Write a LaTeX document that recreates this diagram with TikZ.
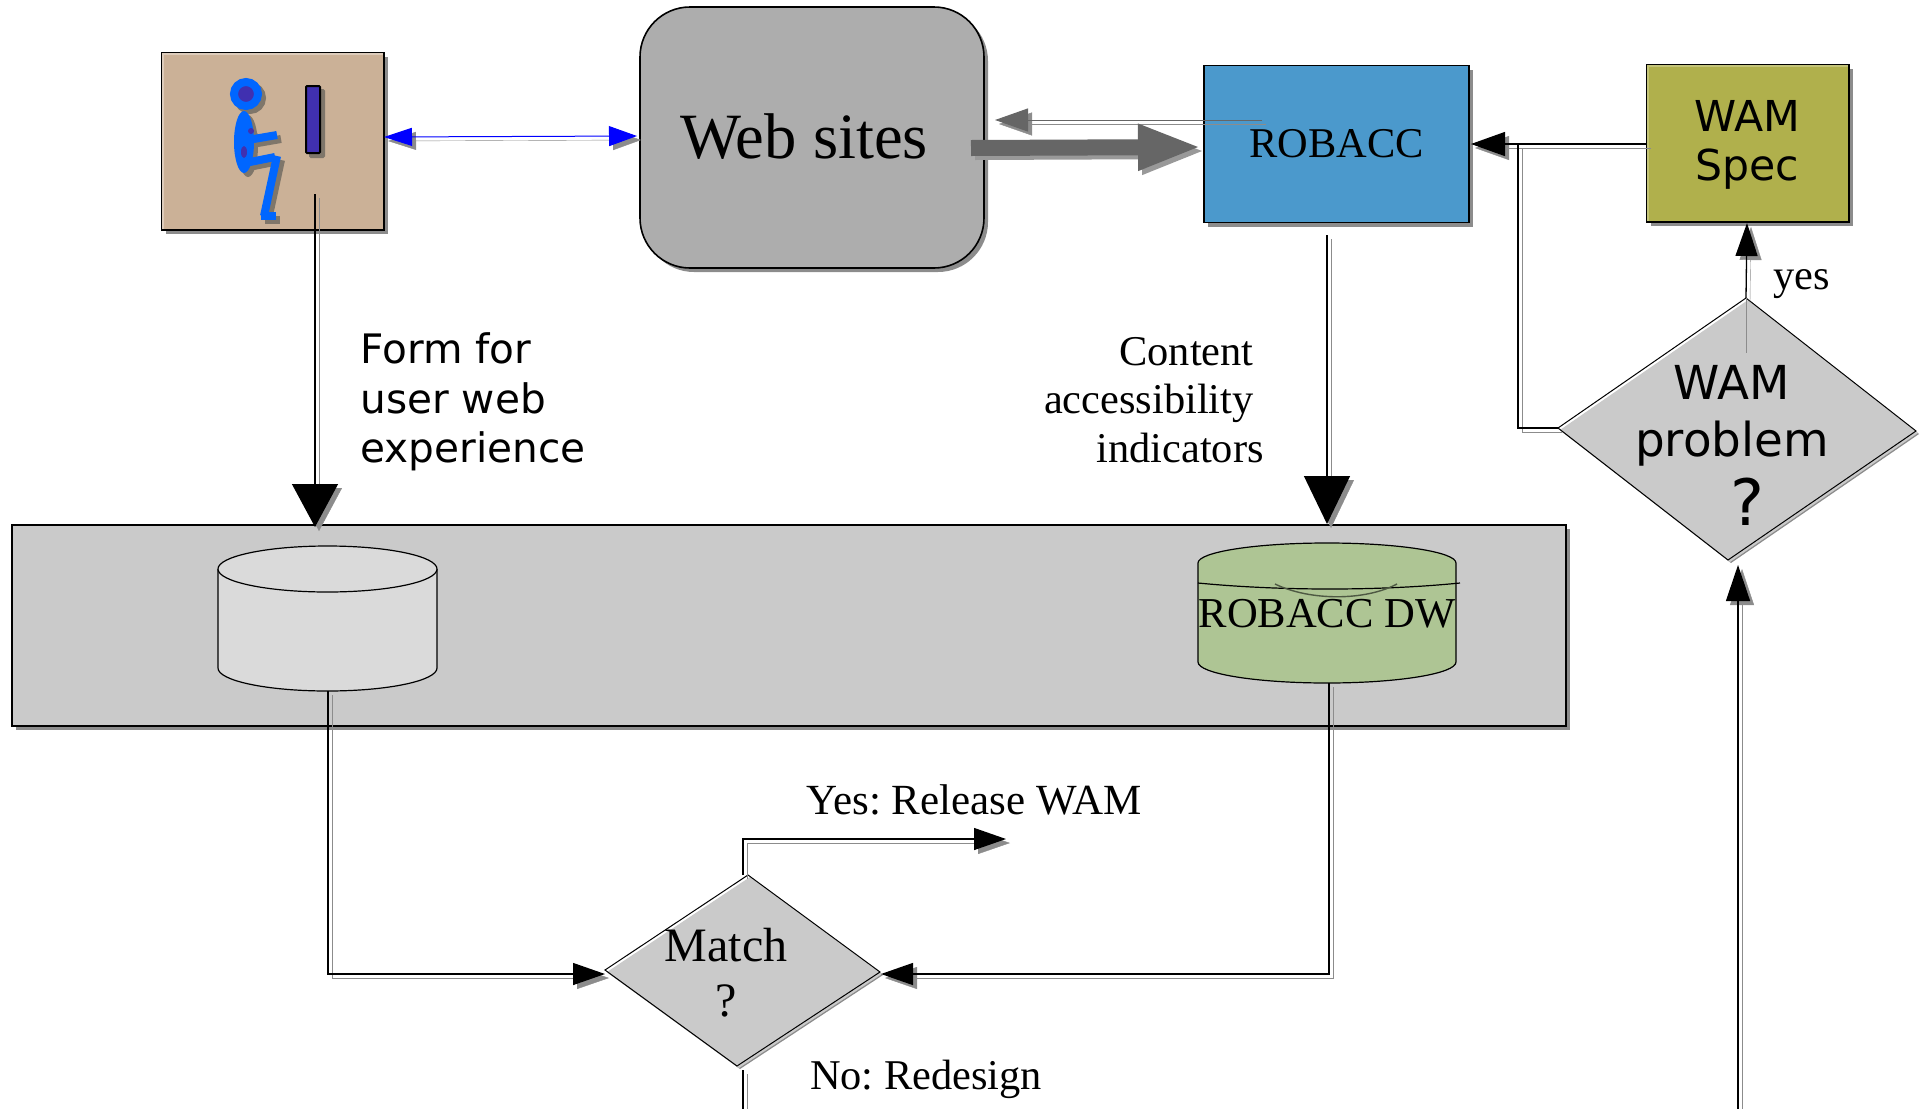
\documentclass[tikz,border=0pt]{standalone}
\usepackage{fontspec}
\setmainfont{Liberation Serif}
\newfontfamily\verafont{DejaVu Sans}
\usetikzlibrary{arrows.meta,shadows}
\definecolor{sdwgray}{HTML}{8C8C8C}
\definecolor{userfill}{HTML}{CBB197}
\definecolor{webfill}{HTML}{ADADAD}
\definecolor{robfill}{HTML}{4B99CC}
\definecolor{wamfill}{HTML}{B0B04C}
\definecolor{bandfill}{HTML}{CACACA}
\definecolor{dbfill}{HTML}{DADADA}
\definecolor{dwfill}{HTML}{AEC594}
\definecolor{figblue}{HTML}{0066FF}
\definecolor{figdark}{HTML}{4030B0}
\definecolor{figsdw}{HTML}{7F766A}
\tikzset{
  sdwbox/.style={draw=black,line width=0.8pt,inner sep=0pt,align=center,
    drop shadow={shadow xshift=2pt,shadow yshift=-2pt,fill=sdwgray,opacity=1}},
  serifa/.style={font=\fontsize{21.2}{24.25}\selectfont},
  sansa/.style={font=\verafont\fontsize{20.3}{24.85}\selectfont},
  flowline/.style={line width=0.65pt},
  flowsdw/.style={line width=0.2pt,draw=sdwgray,transform canvas={shift={(2pt,-2pt)}}},
  hilite/.style={line width=1pt},
  bigtip/.style={-{Triangle[length=21.5pt,width=23pt]}},
  midtip/.style={-{Triangle[length=16.5pt,width=11.5pt]}},
  bluetip/.style={{Triangle[length=14pt,width=9pt]}-{Triangle[length=14pt,width=10pt]}}
}
% line with its offset shadow
\newcommand{\flow}[2][]{
  \draw[flowsdw,#1] #2;
  \draw[flowline,#1] #2;
}
% skewed decision box from its four corners
\newcommand{\decision}[4]{
  \fill[sdwgray,transform canvas={shift={(1.5pt,-1.5pt)}}] (#1)--(#2)--(#3)--(#4)--cycle;
  \fill[white] (#1)--(#2)--(#3)--(#4)--cycle;
  \fill[bandfill,transform canvas={shift={(1pt,-1pt)}}] (#1)--(#2)--(#3)--(#4)--cycle;
  \draw[line width=0.5pt] (#1)--(#2)--(#3)--(#4)--cycle;
}
\begin{document}
\frenchspacing
\begin{tikzpicture}[x=0.5pt,y=-0.5pt]
  \useasboundingbox (0,0) rectangle (1924,1109);

  % boxes
  \node[sdwbox,fill=userfill,minimum width=111pt,minimum height=88.5pt] (user) at (273,141.5) {};
  \node[sdwbox,fill=webfill,rounded corners=25pt,minimum width=172pt,minimum height=130.5pt] (web) at (812,137.5) {};
  \node[sdwbox,fill=robfill,minimum width=132.5pt,minimum height=78.5pt,
    font=\fontsize{21.2}{24}\selectfont] (robacc) at (1336.5,144) {ROBACC};
  \node[sdwbox,fill=wamfill,minimum width=101pt,minimum height=78.5pt] (wamspec) at (1748,143.5) {};
  \node[sdwbox,fill=bandfill,minimum width=777pt,minimum height=100.5pt] (band) at (789,625.5) {};
  \draw[hilite,draw=userfill!65!white] ([shift={(0.9pt,0.9pt)}]user.south west) |- ([shift={(-0.9pt,-0.9pt)}]user.north east);
  \draw[hilite,draw=wamfill!75!white] ([shift={(0.9pt,0.9pt)}]wamspec.south west) |- ([shift={(-0.9pt,-0.9pt)}]wamspec.north east);

  % seated figure and screen
  \foreach \shf/\cola/\colb/\colc in {2pt/figsdw/figsdw/figsdw,0pt/figblue/figdark/black}{
    \begin{scope}[transform canvas={shift={(\shf,-\shf)}}]
      \draw[\cola,line width=4pt,fill=\colb] (246,94) circle (6pt);
      \fill[\cola] (244,142) ellipse (5pt and 15.5pt);
      \draw[\cola,line width=4pt] (248,140) -- (277,135);
      \draw[\cola,line width=4pt] (245,163) -- (275,157);
      \draw[\cola,line width=4pt] (277,156) -- (264,216);
      \draw[\cola,line width=4pt] (261,216) -- (276,216);
      \fill[\colb] (251,131) circle (1.5pt);
      \fill[\colb] (244,152) ellipse (1.5pt and 3pt);
      \filldraw[draw=\colc,line width=1pt,fill=\colb,rounded corners=0.5pt] (306,86) rectangle (320,153);
    \end{scope}
  }

  % stores
  \coordinate (dbbot) at (328,691);
  \filldraw[fill=dbfill,line width=0.6pt] (218,569) -- (218,668)
    arc[start angle=180,end angle=360,x radius=54.75pt,y radius=11.5pt] -- (437,569);
  \filldraw[fill=dbfill,line width=0.6pt] (327.5,569) ellipse (54.75pt and 11.5pt);
  \coordinate (dwbot) at (1329,683);
  \filldraw[fill=dwfill,line width=0.6pt] (1198,563) -- (1198,662)
    arc[start angle=180,end angle=360,x radius=64.5pt,y radius=10.5pt] -- (1456,563)
    arc[start angle=0,end angle=180,x radius=64.5pt,y radius=10pt] -- cycle;
  \draw[line width=0.6pt] (1198,583) .. controls (1280,591) and (1380,591) .. (1460,583);
  \draw[line width=0.7pt,draw=dwfill!45!black] (1275,584) .. controls (1310,601) and (1365,601) .. (1397,584);
  \node[font=\fontsize{21.3}{24}\selectfont,inner sep=0pt] (dwlabel) at (1327,614) {ROBACC DW};

  % decisions
  \coordinate (matchL) at (605,970);
  \coordinate (matchT) at (748,875);
  \coordinate (matchR) at (880,972);
  \coordinate (matchB) at (737,1066);
  \decision{matchL}{matchT}{matchR}{matchB}
  \coordinate (probL) at (1558,428);
  \coordinate (probT) at (1746,298);
  \coordinate (probR) at (1916,431);
  \coordinate (probB) at (1728,560);
  \decision{probL}{probT}{probR}{probB}

  % free ends and bends
  \coordinate (userout) at (315,194);
  \coordinate (userin) at (315,527);
  \coordinate (robout) at (1327,235);
  \coordinate (robin) at (1327,524);
  \coordinate (dbbend) at (328,974);
  \coordinate (matchin) at (605,974);
  \coordinate (dwbend) at (1329,974);
  \coordinate (matchinr) at (881,974);
  \coordinate (yesa) at (743,875);
  \coordinate (yesb) at (743,839);
  \coordinate (yesc) at (1006,839);
  \coordinate (noa) at (743,1070);
  \coordinate (nob) at (743,1109);
  \coordinate (upa) at (1738,1109);
  \coordinate (upb) at (1738,565);
  \coordinate (speca) at (1746,353);
  \coordinate (specb) at (1747,223);
  \coordinate (wamout) at (1647,144);
  \coordinate (robr) at (1471,144);
  \coordinate (loopa) at (1518,428);
  \coordinate (loopb) at (1518,144);
  \coordinate (webouta) at (971,148);
  \coordinate (webinb) at (1202,147);
  \coordinate (backa) at (1262,120);
  \coordinate (backb) at (995,120);
  \coordinate (usera) at (384,137);
  \coordinate (weba) at (637,136);

  % connectors
  \draw[flowsdw,bluetip] (usera) -- (weba);
  \draw[line width=0.5pt,blue,bluetip] (usera) -- (weba);
  \draw[flowsdw,midtip] (backa) -- (backb);
  \draw[line width=0.5pt,black!60,midtip] (backa) -- (backb);
  \draw[flowsdw,line width=8pt,draw=black!40,-{Triangle[length=32pt,width=21pt]}] (webouta) -- (webinb);
  \draw[line width=8pt,draw=black!60,-{Triangle[length=32pt,width=21pt]}] (webouta) -- (webinb);
  \flow[bigtip]{(userout) -- (userin)}
  \flow[-{Triangle[length=24pt,width=23pt]}]{(robout) -- (robin)}
  \flow[-{Triangle[length=17pt,width=12pt]}]{(wamout) -- (robr)}
  \flow{(probL) -- (loopa) -- (loopb)}
  \flow[-{Triangle[length=16.5pt,width=11pt]}]{(probT) -- (specb)}
  \draw[line width=0.4pt,draw=black!45] (probT) -- (speca);
  \flow[-{Triangle[length=16pt,width=11pt]}]{(dbbot) -- (dbbend) -- (matchin)}
  \flow[-{Triangle[length=16pt,width=11pt]}]{(dwbot) -- (dwbend) -- (matchinr)}
  \flow[-{Triangle[length=16pt,width=11pt]}]{(yesa) -- (yesb) -- (yesc)}
  \flow{(noa) -- (nob)}
  \flow[-{Triangle[length=18pt,width=12pt]}]{(upa) -- (upb)}

  % labels
  \node[font=\fontsize{32.3}{36}\selectfont,inner sep=0pt] (weblabel) at (804,137) {Web sites};
  \node[font=\verafont\fontsize{21.3}{24.5}\selectfont,align=center,inner sep=0pt] (wamlabel) at (1747,145) {WAM\\Spec};
  \node[sansa,anchor=west,align=left,inner sep=0pt] (formlabel) at (360,402) {Form for\\user web\\experience};
  \node[serifa,anchor=east,align=right,inner sep=0pt] (contentlabel) at (1254,400) {Content\\accessibility\\indicators\hspace*{-5pt}};
  \node[serifa,inner sep=0pt] (yeslabel) at (1802,284) {yes};
  \node[font=\fontsize{21.5}{24}\selectfont,inner sep=0pt] (releaselabel) at (974,800) {Yes: Release WAM};
  \node[serifa,inner sep=0pt] (redesignlabel) at (926,1079) {No: Redesign};
  \node[font=\fontsize{24}{27.5}\selectfont,align=center,inner sep=0pt] (matchlabel) at (726,973) {Match\\?};
  \node[font=\verafont\fontsize{23.4}{28.4}\selectfont,align=center,inner sep=0pt] (problabel) at (1732,416) {WAM\\problem};
  \node[font=\verafont\fontsize{32}{34}\selectfont,inner sep=0pt] (probmark) at (1747,502) {?};
\end{tikzpicture}
\end{document}
